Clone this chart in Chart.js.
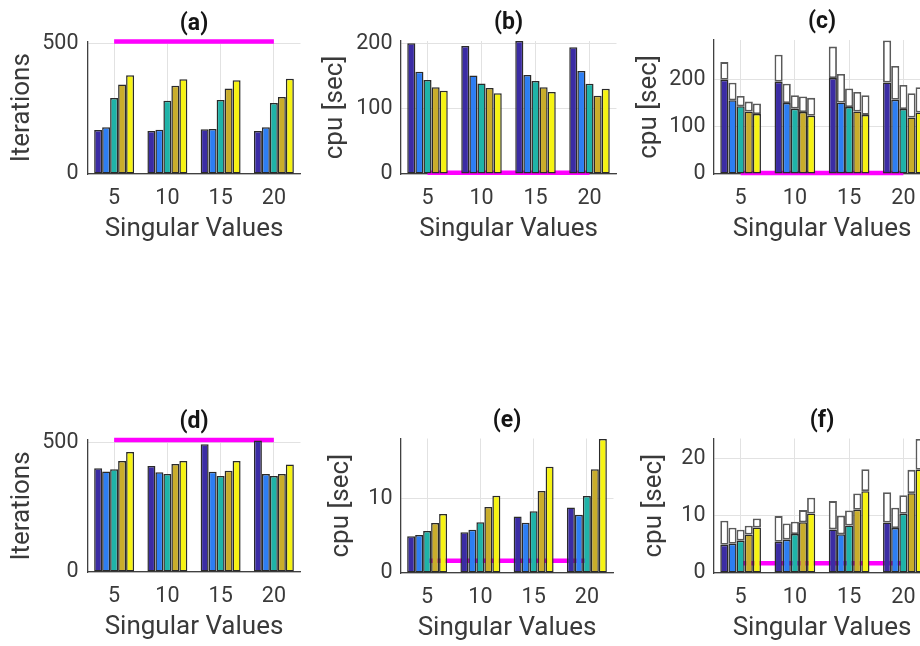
<!DOCTYPE html>
<html>
<head>
<meta charset="utf-8">
<script src="https://cdn.jsdelivr.net/npm/chart.js@4/dist/chart.umd.min.js"></script>
<style>
html,body{margin:0;padding:0;background:#fff;overflow:hidden;width:920px;height:646px;position:relative;}
canvas{position:absolute;}
</style>
</head>
<body>
<canvas id="pa"></canvas>
<canvas id="pb"></canvas>
<canvas id="pc"></canvas>
<canvas id="pd"></canvas>
<canvas id="pe"></canvas>
<canvas id="pf"></canvas>
<script>
// ---------- data ----------
const singularValues = ['5', '10', '15', '20'];
const seriesColors = ['#3b2ca4', '#2d7ef3', '#1fb3a8', '#c9ad2b', '#f6f313'];

// (a) iterations, problem 1 (5 series x 4 singular-value settings)
const iterA = [
  [169, 165, 172, 165],
  [179, 170, 173, 179],
  [291, 281, 284, 272],
  [343, 338, 328, 295],
  [379, 363, 359, 365]
];
const refIterA = 508;

// (b) cpu time [sec], problem 1
const cpuB = [
  [200.5, 196.4, 204, 194.4],
  [156.7, 151, 152, 158],
  [144, 139, 142.5, 138.4],
  [133, 132, 133, 120],
  [127.7, 123.7, 125.7, 130.8]
];
const refCpuB = 2;

// (c) total cpu time [sec] (coloured part = cpuB, white part = remainder)
const cpuTotalC = [
  [238, 253.5, 271, 283.8],
  [194, 192, 212.7, 229.6],
  [166, 167.6, 181.7, 189.4],
  [154, 164.8, 174.6, 171.8],
  [150, 162, 167.6, 184.5]
];
const refCpuC = 2;

// (d) iterations, problem 2
const iterD = [
  [401, 410, 494, 508],
  [388, 385, 387, 379],
  [397, 379, 370.5, 370.5],
  [429, 417, 391, 379],
  [464, 429, 429, 415]
];
const refIterD = 510;

// (e) cpu time [sec], problem 2
const cpuE = [
  [4.93, 5.47, 7.62, 8.83],
  [5.11, 5.83, 6.77, 7.85],
  [5.65, 6.82, 8.30, 10.36],
  [6.73, 8.88, 11.03, 13.95],
  [7.94, 10.4, 14.3, 18.03]
];
const refCpuE = 1.66;

// (f) total cpu time [sec], problem 2
const cpuTotalF = [
  [9.13, 9.94, 12.56, 14.13],
  [7.9, 8.66, 10.0, 11.4],
  [7.56, 8.95, 10.93, 13.6],
  [8.26, 10.99, 13.9, 18.02],
  [9.53, 13.14, 18.14, 23.4]
];
const refCpuF = 1.7;

const yTicksIter = [0, 500];
const yTicksCpuB = [0, 100, 200];
const yTicksCpuE = [0, 10];
const yTicksCpuF = [0, 10, 20];

// ---------- drawing ----------
const FONT = 'Roboto';
const TEXT = '#3a3a3a';
const GRID = '#e2e2e2';
const AXIS = '#404040';

function makePanel(p) {
  const cv = document.getElementById(p.id);
  const r = p.rect, a = p.area;
  cv.width = r.w; cv.height = r.h;
  cv.style.left = r.x + 'px'; cv.style.top = r.y + 'px';
  cv.style.width = r.w + 'px'; cv.style.height = r.h + 'px';

  const titleSize = 23;
  const titleLH = titleSize * 1.2;
  const titleCy = a.T - 17.5;
  const yw = a.L - r.x;
  const xh = r.y + r.h - a.B;
  const labelLH = 26 * 1.2;

  const datasets = [];
  const stacked = !!p.totals;
  p.values.forEach((vals, i) => {
    datasets.push({
      type: 'bar', data: vals, backgroundColor: seriesColors[i],
      borderColor: '#2a2a2a', borderWidth: 1.5, borderSkipped: false,
      categoryPercentage: 0.75, barPercentage: 1.0,
      stack: 's' + i, order: 0
    });
  });
  if (stacked) {
    p.totals.forEach((tot, i) => {
      datasets.push({
        type: 'bar', data: tot.map((t, j) => t - p.values[i][j]), backgroundColor: '#ffffff',
        borderColor: '#5a5a5a', borderWidth: 1.8, borderSkipped: false,
        categoryPercentage: 0.75, barPercentage: 1.0,
        stack: 's' + i, order: 0
      });
    });
  }
  datasets.push({
    type: 'line', data: singularValues.map(() => p.ref), borderColor: '#ff00ff',
    borderWidth: 4.5, pointRadius: 0, fill: false, clip: false, order: 100, stack: 'ref',
    borderCapStyle: 'butt'
  });

  new Chart(cv, {
    type: 'bar',
    data: { labels: singularValues, datasets },
    options: {
      responsive: false, animation: false, devicePixelRatio: 1,
      layout: { padding: { left: 0, top: 0, bottom: 0, right: r.x + r.w - a.R } },
      plugins: {
        legend: { display: false }, tooltip: { enabled: false },
        title: {
          display: true, text: p.title, fullSize: false, color: '#151515',
          font: { family: FONT, size: titleSize, weight: 'bold', lineHeight: 1.2 },
          padding: { top: titleCy - r.y - titleLH / 2, bottom: a.T - titleCy - titleLH / 2 }
        }
      },
      scales: {
        x: {
          type: 'category', offset: true, stacked: stacked,
          grid: { display: true, offset: false, color: GRID, lineWidth: 1, drawTicks: false },
          border: { display: true, color: AXIS, width: 1.3 },
          ticks: { font: { family: FONT, size: 21.5 }, color: TEXT, padding: 11.5, maxRotation: 0, autoSkip: false },
          title: { display: true, text: 'Singular Values', color: TEXT,
                   font: { family: FONT, size: 26, lineHeight: 1.2 }, padding: { top: 0, bottom: xh - 55.3 - labelLH / 2 } },
          afterFit(s) { s.height = xh; }
        },
        y: {
          min: 0, max: p.yMax, stacked: stacked,
          afterBuildTicks(s) { s.ticks = p.yTicks.map(v => ({ value: v })); },
          grid: { color: GRID, lineWidth: 1, drawTicks: false },
          border: { display: true, color: AXIS, width: 1.3 },
          ticks: { font: { family: FONT, size: 21.5 }, color: TEXT, padding: p.tickPad },
          title: { display: true, text: p.yLabel, color: TEXT,
                   font: { family: FONT, size: 26, lineHeight: 1.2 }, padding: { top: p.yTitleX - labelLH / 2, bottom: 0 } },
          afterFit(s) { s.width = yw; }
        }
      }
    }
  });
}

makePanel({ id: 'pa', title: '(a)', yLabel: 'Iterations', values: iterA, ref: refIterA, yMax: 508, yTicks: yTicksIter,
  rect: { x: 0, y: 0, w: 310, h: 250 }, area: { L: 87.5, T: 41.5, R: 300.5, B: 174 }, yTitleX: 22.9, tickPad: 9 });
makePanel({ id: 'pb', title: '(b)', yLabel: 'cpu [sec]', values: cpuB, ref: refCpuB, yMax: 204, yTicks: yTicksCpuB,
  rect: { x: 310, y: 0, w: 310, h: 250 }, area: { L: 400.5, T: 41, R: 616.5, B: 174 }, yTitleX: 25, tickPad: 8 });
makePanel({ id: 'pc', title: '(c)', yLabel: 'cpu [sec]', values: cpuB, totals: cpuTotalC, ref: refCpuC, yMax: 285, yTicks: yTicksCpuB,
  rect: { x: 620, y: 0, w: 340, h: 250 }, area: { L: 713.5, T: 40, R: 930.5, B: 174 }, yTitleX: 29, tickPad: 8 });
makePanel({ id: 'pd', title: '(d)', yLabel: 'Iterations', values: iterD, ref: refIterD, yMax: 510, yTicks: yTicksIter,
  rect: { x: 0, y: 398, w: 310, h: 250 }, area: { L: 87.5, T: 440, R: 300.5, B: 572 }, yTitleX: 22.9, tickPad: 9 });
makePanel({ id: 'pe', title: '(e)', yLabel: 'cpu [sec]', values: cpuE, ref: refCpuE, yMax: 18.1, yTicks: yTicksCpuE,
  rect: { x: 310, y: 398, w: 310, h: 251 }, area: { L: 400.5, T: 438.5, R: 613.5, B: 573 }, yTitleX: 31, tickPad: 8 });
makePanel({ id: 'pf', title: '(f)', yLabel: 'cpu [sec]', values: cpuE, totals: cpuTotalF, ref: refCpuF, yMax: 23.5, yTicks: yTicksCpuF,
  rect: { x: 620, y: 398, w: 340, h: 251 }, area: { L: 713.5, T: 438.5, R: 930.5, B: 573 }, yTitleX: 34, tickPad: 8 });
</script>
</body>
</html>
